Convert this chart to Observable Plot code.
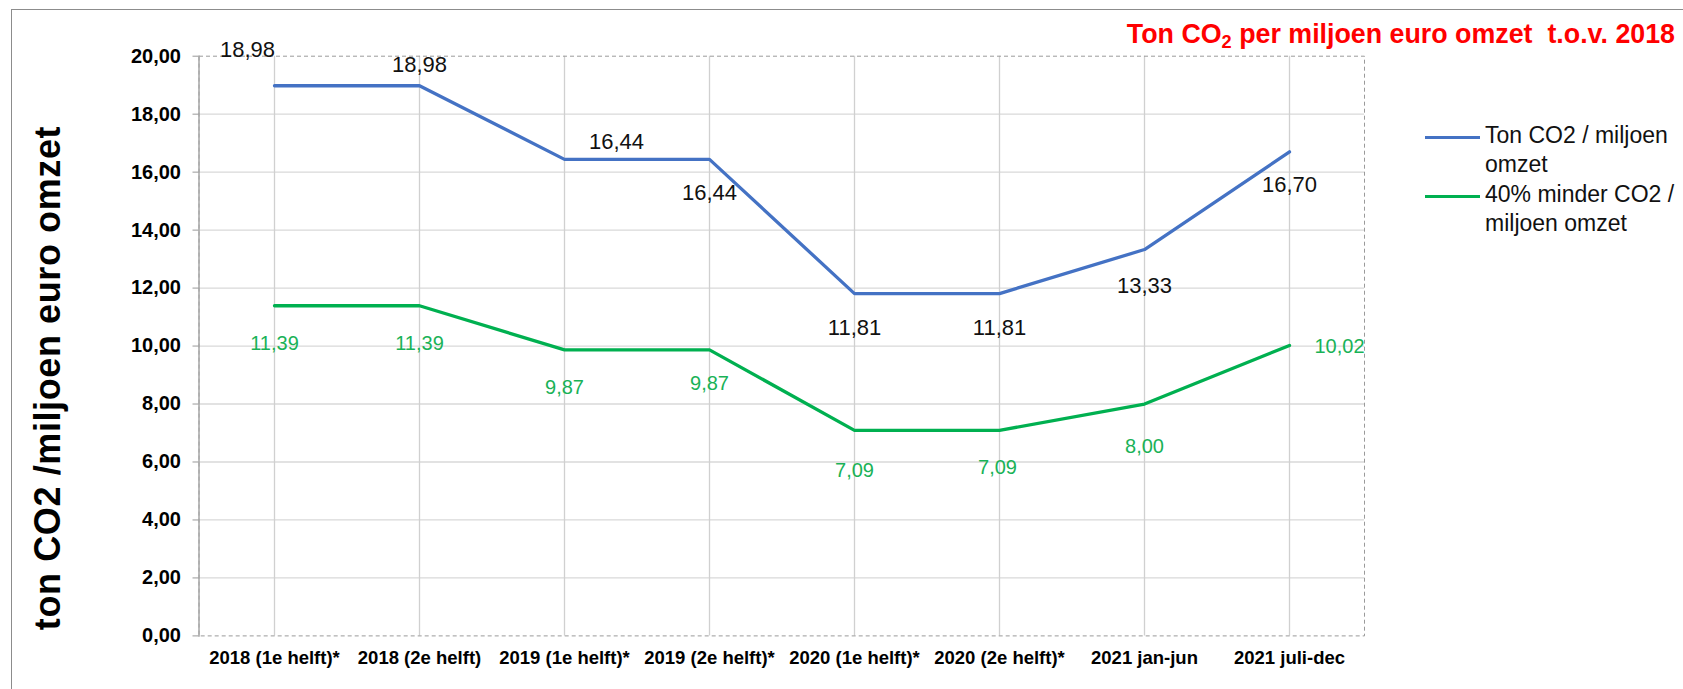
<!DOCTYPE html>
<html><head><meta charset="utf-8">
<script src="https://cdn.jsdelivr.net/npm/d3@7"></script>
<script src="https://cdn.jsdelivr.net/npm/@observablehq/plot@0.6"></script>
<style>
html,body{margin:0;padding:0;background:#fff;}
#wrap{position:relative;width:1683px;height:689px;overflow:hidden;font-family:"Liberation Sans",Arial,sans-serif;background:#fff;}
#chart{position:absolute;left:0;top:0;}
#border{position:absolute;left:11px;top:9px;width:1700px;height:700px;border-left:1.5px solid #8c8c8c;border-top:1.5px solid #8c8c8c;}
#title{position:absolute;right:8px;top:21px;font-size:26.8px;line-height:26.5px;font-weight:bold;color:#ff0000;white-space:nowrap;}
#title sub{font-size:0.68em;vertical-align:-0.28em;line-height:0;}
#ytitle{position:absolute;left:48px;top:378px;transform:translate(-50%,-50%) rotate(-90deg);font-size:36px;letter-spacing:0.6px;font-weight:bold;color:#000;white-space:nowrap;}
#legend{position:absolute;left:1425px;top:120.6px;font-size:23px;line-height:29.5px;color:#111;}
.lg{position:relative;padding-left:60px;white-space:nowrap;}
.sw{position:absolute;left:0;top:15px;width:55px;height:3px;}
</style></head>
<body>
<div id="wrap">
  <div id="border"></div>
  <div id="chart"></div>
  <div id="title"></div>
  <div id="ytitle"></div>
  <div id="legend"></div>
</div>
<script>
// ---- data ----
const categories = ["2018 (1e helft)*", "2018 (2e helft)", "2019 (1e helft)*", "2019 (2e helft)*", "2020 (1e helft)*", "2020 (2e helft)*", "2021 jan-jun", "2021 juli-dec"];
const tonCO2 = [18.98, 18.98, 16.44, 16.44, 11.81, 11.81, 13.33, 16.70];
const minder40 = [11.39, 11.39, 9.87, 9.87, 7.09, 7.09, 8.00, 10.02];
const yTicks = [0, 2, 4, 6, 8, 10, 12, 14, 16, 18, 20];
const seriesNames = [["Ton CO2 / miljoen", "omzet"], ["40% minder CO2 /", "miljoen omzet"]];
const titleText = ["Ton CO", "2", " per miljoen euro omzet\u00a0 t.o.v. 2018"];
const yTitle = "ton CO2 /miljoen euro omzet";

// ---- layout / style (not data) ----
const blue = "#4472C4", green = "#00B050";
const blueLabelOffset = [[-27, -36], [0, -21], [52, -17], [0, 34], [0, 34], [0, 34], [0, 36], [0, 33]];
const greenLabelOffset = [[0, 38], [0, 38], [0, 38], [0, 34], [0, 40], [-2, 37], [0, 43], [50, 1]];

const fmt = d3.formatLocale({decimal: ",", thousands: ".", grouping: [3], currency: ["€", ""]}).format(".2f");
const rows = categories.map((c, i) => ({cat: c, ton: tonCO2[i], min: minder40[i]}));

const blueLabels = rows.map((d, i) => Plot.text([d], {x: "cat", y: "ton", text: r => fmt(r.ton), dx: blueLabelOffset[i][0], dy: blueLabelOffset[i][1], fill: "#111", fontSize: 22, letterSpacing: 0.8}));
const greenLabels = rows.map((d, i) => Plot.text([d], {x: "cat", y: "min", text: r => fmt(r.min), dx: greenLabelOffset[i][0], dy: greenLabelOffset[i][1], fill: "#19B257", fontSize: 20, letterSpacing: 0.7}));

const plot = Plot.plot({
  width: 1683, height: 689,
  marginLeft: 198.5, marginRight: 319, marginTop: 55.7, marginBottom: 53.6,
  x: {type: "point", domain: categories, padding: 0.5},
  y: {domain: [0, 20]},
  style: {fontFamily: "'Liberation Sans', Arial, sans-serif", background: "transparent", overflow: "visible"},
  marks: [
    Plot.gridY(yTicks.filter(v => v > 0 && v < 20), {stroke: "#d9d9d9", strokeOpacity: 1, strokeWidth: 1.3}),
    Plot.gridX(categories, {stroke: "#d0d0d0", strokeOpacity: 1, strokeWidth: 1.3}),
    Plot.frame({stroke: "#9a9a9a", strokeDasharray: "4,3"}),
    Plot.frame({anchor: "left", stroke: "#a6a6a6", strokeWidth: 1.5}),
    Plot.axisY(yTicks, {tickSize: 6, tickPadding: 12, tickFormat: fmt, fontSize: 20, letterSpacing: 0.4, fontWeight: "bold", stroke: "#999", fill: "#000", label: null}),
    Plot.axisX({tickSize: 0, tickPadding: 15, fontSize: 18.5, letterSpacing: 0.3, fontWeight: "bold", fill: "#000", label: null}),
    Plot.line(rows, {x: "cat", y: "min", stroke: green, strokeWidth: 3.3}),
    Plot.line(rows, {x: "cat", y: "ton", stroke: blue, strokeWidth: 3.3}),
    ...blueLabels,
    ...greenLabels
  ]
});
document.getElementById("chart").appendChild(plot);

// title
const t = document.getElementById("title");
t.append(titleText[0]);
const sub = document.createElement("sub"); sub.textContent = titleText[1]; t.append(sub);
t.append(titleText[2]);

document.getElementById("ytitle").textContent = yTitle;

// legend
const lg = document.getElementById("legend");
[blue, green].forEach((c, i) => {
  const div = document.createElement("div");
  div.className = "lg";
  const sw = document.createElement("span");
  sw.className = "sw"; sw.style.background = c;
  div.appendChild(sw);
  div.append(seriesNames[i][0]);
  div.appendChild(document.createElement("br"));
  div.append(seriesNames[i][1]);
  lg.appendChild(div);
});
</script>
</body></html>
